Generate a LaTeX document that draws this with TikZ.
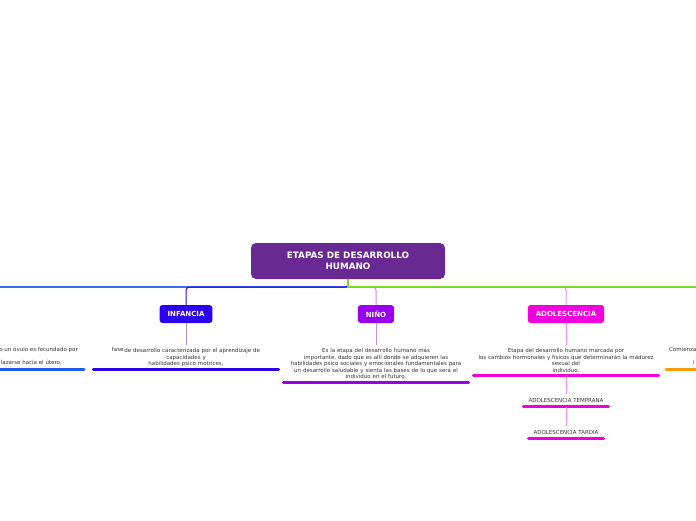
\documentclass[tikz,border=0pt]{standalone}
\usepackage{fontspec}
\setmainfont{DejaVu Sans}
\usetikzlibrary{positioning}

\definecolor{raiz}{HTML}{682A92}
\definecolor{infancia}{HTML}{2A00EE}
\definecolor{infClaro}{HTML}{A090F2}
\definecolor{nino}{HTML}{9A00EE}
\definecolor{ninoClaro}{HTML}{CC88F2}
\definecolor{adol}{HTML}{F000DC}
\definecolor{adolClaro}{HTML}{FF88F0}
\definecolor{izquierda}{HTML}{1A5CEE}
\definecolor{izqClaro}{HTML}{3A6CF0}
\definecolor{verde}{HTML}{77DD22}
\definecolor{naranja}{HTML}{FF9A00}
\definecolor{gris}{HTML}{333333}

\begin{document}
\begin{tikzpicture}[x=1pt,y=-1pt,
    rama/.style={rounded corners=3pt, text=white, minimum height=18pt, inner xsep=8pt,
      font=\bfseries\fontsize{7}{8}\selectfont},
    texto/.style={text width=180pt, align=center, inner xsep=2.5pt, inner ysep=3pt,
      text=gris, font=\fontsize{5.5}{6.5}\selectfont},
    subtexto/.style={inner xsep=5pt, inner ysep=4pt, text=gris, font=\fontsize{5.5}{6.5}\selectfont},
    suelto/.style={inner sep=0pt, text=gris, font=\fontsize{5.5}{6.5}\selectfont},
    linea/.style={line width=3pt, line cap=round},
    conector/.style={line width=1pt}]
  \useasboundingbox (0,0) rectangle (696,520);

  % tema central
  \node[fill=raiz, rounded corners=5pt, text=white, align=center, minimum width=194pt,
    minimum height=36pt, font=\bfseries\fontsize{8.8}{11}\selectfont] (raiz) at (348,261)
    {ETAPAS DE DESARROLLO\\HUMANO};

  % ramas
  \node[rama, fill=infancia] (inf) at (186,314) {INFANCIA};
  \node[rama, fill=nino] (nino) at (376,314) {NIÑO};
  \node[rama, fill=adol] (adol) at (566,314) {ADOLESCENCIA};

  \coordinate (izq) at (-20,287);
  \coordinate (der) at (716,287);

  \draw[conector, izqClaro, line width=1.2pt] (raiz.south) |- (izq);
  \draw[conector, infancia, rounded corners=3pt] (raiz.south) -- ++(0,8) -| (inf.north);
  \draw[conector, ninoClaro, rounded corners=3pt] (raiz.south) -- ++(0,8) -| (nino.north);
  \draw[conector, adolClaro, rounded corners=3pt] (raiz.south) -- ++(0,8) -| (adol.north);
  \draw[conector, verde, line width=1.2pt] (raiz.south) |- (der);

  % descripciones
  \node[texto, below=22pt of inf] (infTxt)
    {\raisebox{1.2pt}[0pt][0pt]{fase}\,de desarrollo caracterizada por el aprendizaje de\\capacidades y\\habilidades psico motrices,};
  \draw[conector, infClaro] (inf.south) -- (infTxt.north);
  \draw[linea, infancia] (infTxt.south west) -- (infTxt.south east);

  \node[texto, below=22pt of nino] (ninoTxt)
    {Es la etapa del desarrollo humano más\\importante, dado que es allí donde se adquieren las\\habilidades psico sociales y emocionales fundamentales para\\un desarrollo saludable y sienta las bases de lo que será el\\individuo en el futuro.};
  \draw[conector, ninoClaro] (nino.south) -- (ninoTxt.north);
  \draw[linea, nino] (ninoTxt.south west) -- (ninoTxt.south east);

  \node[texto, below=22pt of adol] (adolTxt)
    {Etapa del desarrollo humano marcada por\\los cambios hormonales y físicos que determinarán la madurez\\sexual del\\individuo.};
  \draw[conector, adolClaro] (adol.south) -- (adolTxt.north);
  \draw[linea, adol] (adolTxt.south west) -- (adolTxt.south east);

  \node[subtexto, below=19pt of adolTxt] (temprana) {ADOLESCENCIA TEMPRANA};
  \draw[conector, adolClaro] (adolTxt.south) -- (temprana.north);
  \draw[linea, adol] (temprana.south west) -- (temprana.south east);

  \node[subtexto, below=19pt of temprana] (tardia) {ADOLESCENCIA TARDIA};
  \draw[conector, adolClaro] (temprana.south) -- (tardia.north);
  \draw[linea, adol] (tardia.south west) -- (tardia.south east);

  % ramas cortadas en los bordes
  \node[suelto, anchor=base east] (izqA) at (78,351) {o un óvulo es fecundado por};
  \node[suelto, anchor=base east] (izqB) at (62,364) {lazarse hacia el útero,};
  \coordinate (izqIni) at (-20,369);
  \coordinate (izqFin) at (84,369);
  \draw[linea, izquierda] (izqIni) -- (izqFin);

  \node[suelto, anchor=base west] (derA) at (669,351) {Comienza};
  \node[suelto, anchor=base west] (derB) at (693,364) {i};
  \coordinate (derIni) at (666,369);
  \coordinate (derFin) at (720,369);
  \draw[linea, naranja] (derIni) -- (derFin);
\end{tikzpicture}
\end{document}
